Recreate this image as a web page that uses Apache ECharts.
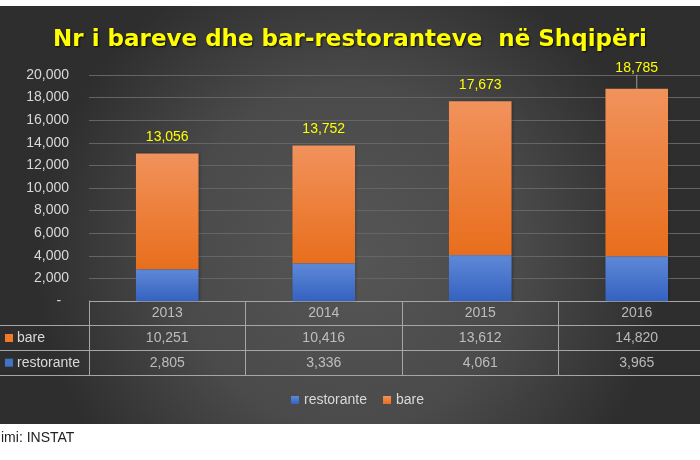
<!DOCTYPE html>
<html><head><meta charset="utf-8">
<script src="https://cdn.jsdelivr.net/npm/echarts@6/dist/echarts.min.js"></script>
<style>html,body{margin:0;padding:0;background:#fff}#c{width:700px;height:460px}</style>
</head><body><div id="c"></div>
<script>
const years = ['2013', '2014', '2015', '2016'];
const bare = [10251, 10416, 13612, 14820];
const restorante = [2805, 3336, 4061, 3965];
const tableRows = ['hdr', 'bare', 'restorante'];
const titleText = 'Nr i bareve dhe bar-restoranteve  në Shqipëri';
const sourceText = 'imi: INSTAT';

const fmt = v => v.toLocaleString('en-US');
const totals = years.map((_, i) => bare[i] + restorante[i]);

const FONT = 'Liberation Sans';
const TXT = '#d9d9d9';
const LINE = '#a6a6a6';
const ORANGE = '#f07a2a';
const BLUE = '#4472c4';

const tableData = [];
years.forEach((y, i) => {
  tableData.push({ name: y, value: [i, 0] });
  tableData.push({ name: fmt(bare[i]), value: [i, 1] });
  tableData.push({ name: fmt(restorante[i]), value: [i, 2] });
});

const chart = echarts.init(document.getElementById('c'), null, { renderer: 'canvas' });
const option = {
  animation: false,
  backgroundColor: '#ffffff',
  graphic: [
    { type: 'rect', silent: true, z: -10, shape: { x: 0, y: 6, width: 700, height: 418 },
      style: { fill: { type: 'radial', x: 0.5, y: 0.6, r: 0.75,
        colorStops: [{ offset: 0, color: '#565656' }, { offset: 0.55, color: '#4a4a4a' }, { offset: 1, color: '#2e2e2e' }] } } },
    { type: 'text', left: 1, top: 431, style: { text: sourceText, font: '14px "Liberation Sans"', fill: '#222' } }
  ],
  title: {
    text: titleText, left: 'center', top: 24,
    textStyle: { color: '#ffff00', fontFamily: 'DejaVu Sans', fontWeight: 'bold', fontSize: 23,
      textShadowColor: 'rgba(0,0,0,0.8)', textShadowBlur: 2, textShadowOffsetX: 1, textShadowOffsetY: 1 }
  },
  legend: {
    data: ['restorante', 'bare'], left: 286, top: 388, icon: 'rect', itemWidth: 8, itemHeight: 8, itemGap: 16,
    textStyle: { color: TXT, fontSize: 14, fontFamily: FONT }
  },
  grid: [
    { left: 89, right: -15, top: 75, height: 226, outerBoundsMode: 'none', containLabel: false },
    { left: 89, right: -15, top: 301, height: 74, outerBoundsMode: 'none', containLabel: false }
  ],
  xAxis: [
    { type: 'category', data: years, gridIndex: 0, axisLine: { show: false }, axisTick: { show: false }, axisLabel: { show: false } },
    { type: 'category', data: years, gridIndex: 1, axisLine: { show: true, lineStyle: { color: LINE } },
      axisTick: { show: false }, axisLabel: { show: false }, splitLine: { show: true, lineStyle: { color: LINE } } }
  ],
  yAxis: [
    { type: 'value', gridIndex: 0, min: 0, max: 20000, interval: 2000,
      axisLabel: { formatter: v => v === 0 ? '-  ' : fmt(v), color: TXT, fontSize: 14, fontFamily: FONT, margin: 20 },
      splitLine: { lineStyle: { color: '#656565' } }, axisLine: { show: false }, axisTick: { show: false } },
    { type: 'category', gridIndex: 1, inverse: true, data: tableRows,
      axisLine: { show: true, lineStyle: { color: LINE } },
      axisTick: { show: true, length: 89, interval: (i) => i > 0, lineStyle: { color: LINE } },
      splitLine: { show: true, lineStyle: { color: LINE } },
      axisLabel: {
        align: 'left', margin: 84,
        formatter: v => v === 'hdr' ? '' : (v === 'bare' ? '{o|}{t|' + v + '}' : '{b|}{t|' + v + '}'),
        rich: {
          o: { width: 8, height: 8, backgroundColor: ORANGE },
          b: { width: 8, height: 8, backgroundColor: BLUE },
          t: { color: TXT, fontSize: 14, fontFamily: FONT, padding: [0, 0, 0, 4] }
        }
      } }
  ],
  series: [
    { name: 'restorante', type: 'bar', stack: 't', xAxisIndex: 0, yAxisIndex: 0, barWidth: '40%', data: restorante,
      itemStyle: { color: new echarts.graphic.LinearGradient(0, 0, 0, 1, [{ offset: 0, color: '#5f89d8' }, { offset: 1, color: '#3462c0' }]),
        shadowColor: 'rgba(0,0,0,0.35)', shadowBlur: 3, shadowOffsetX: 1 } },
    { name: 'bare', type: 'bar', stack: 't', xAxisIndex: 0, yAxisIndex: 0, barWidth: '40%',
      data: bare.map((v, i) => i === 3 ? { value: v, labelLine: { show: true, lineStyle: { color: '#9a9a9a', width: 1 } } } : v),
      itemStyle: { color: new echarts.graphic.LinearGradient(0, 0, 0, 1, [{ offset: 0, color: '#f1925c' }, { offset: 1, color: '#e86e1c' }]),
        shadowColor: 'rgba(0,0,0,0.35)', shadowBlur: 3, shadowOffsetX: 1 },
      label: { show: true, position: 'top', distance: 9, formatter: p => fmt(totals[p.dataIndex]),
        color: '#ffff00', fontSize: 14, fontFamily: FONT },
      labelLayout: p => p.dataIndex === 3 ? { dy: -5 } : {} },
    { type: 'scatter', xAxisIndex: 1, yAxisIndex: 1, symbol: 'rect', symbolSize: 1, silent: true,
      itemStyle: { color: 'rgba(0,0,0,0)' },
      label: { show: true, position: 'inside', formatter: '{b}', color: TXT, fontSize: 14, fontFamily: FONT },
      data: tableData }
  ]
};
chart.setOption(option);
</script></body></html>
